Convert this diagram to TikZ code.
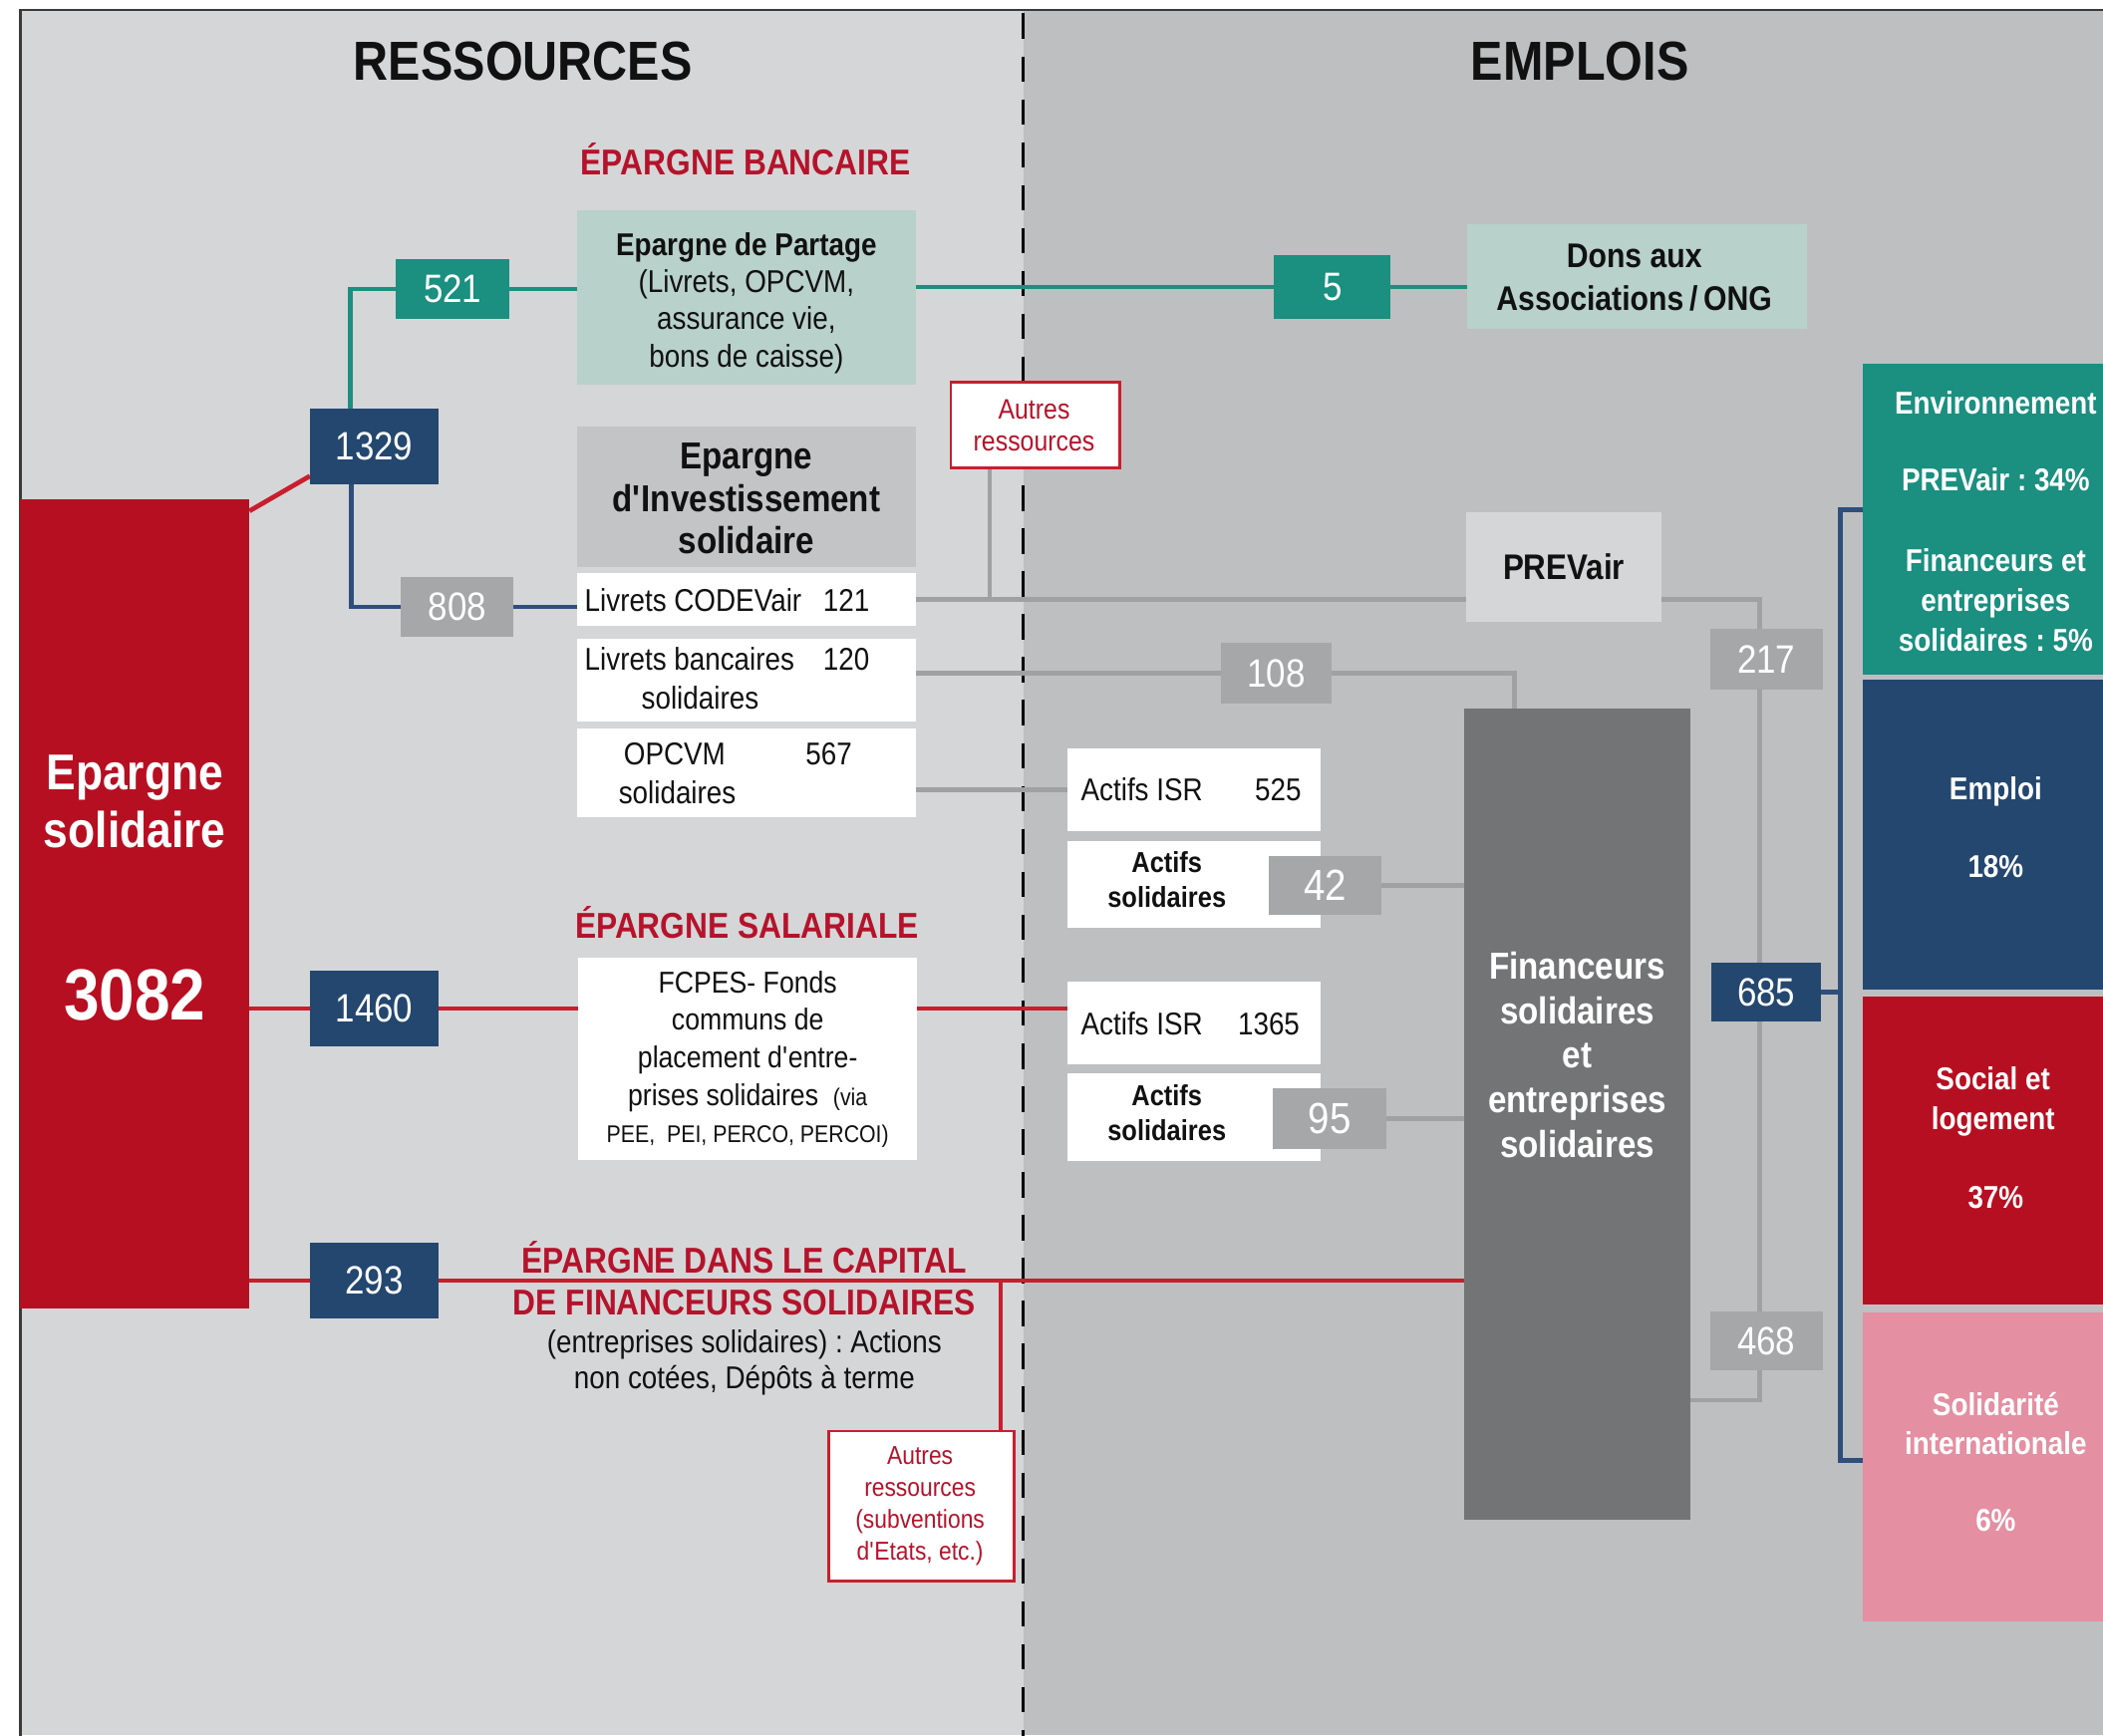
\documentclass[tikz,border=0pt]{standalone}
\usepackage{fontspec}
\setmainfont{Liberation Sans}[FakeStretch=0.88]
\usetikzlibrary{calc}
\definecolor{leftbg}{HTML}{D5D6D8}
\definecolor{rightbg}{HTML}{BEBFC1}
\definecolor{bordercol}{HTML}{3A3A3A}
\definecolor{esred}{HTML}{B70F22}
\definecolor{linered}{HTML}{C81E2D}
\definecolor{headred}{HTML}{B5132B}
\definecolor{navy}{HTML}{24476F}
\definecolor{navyline}{HTML}{2E4F7C}
\definecolor{tealc}{HTML}{1B8F80}
\definecolor{lteal}{HTML}{B8D1CA}
\definecolor{gbox}{HTML}{A6A7A9}
\definecolor{gline}{HTML}{A0A1A3}
\definecolor{dgray}{HTML}{737476}
\definecolor{pinkc}{HTML}{E48FA2}
\definecolor{eisgray}{HTML}{C3C4C6}
\definecolor{txtk}{HTML}{111111}
\newcommand\myfs[2]{\fontsize{#1}{#2}\selectfont}
\pgfdeclarelayer{bg}
\pgfdeclarelayer{lines}
\pgfsetlayers{bg,lines,main}
\frenchspacing
\tikzset{
  panel/.style={rectangle, inner sep=0pt, outer sep=0pt},
  numb/.style={panel, text=white, font=\myfs{29.5}{30}},
  lbl/.style={inner sep=0pt, outer sep=0pt, text=txtk},
  wlbl/.style={inner sep=0pt, outer sep=0pt, text=white, font=\myfs{23.5}{29.5}\bfseries},
  rhead/.style={lbl, text=headred, font=\myfs{26.8}{31}\bfseries},
  btxt/.style={lbl, font=\myfs{23.5}{28}},
  tealln/.style={line width=3.5pt, tealc},
  gln/.style={line width=3.5pt, gline},
  rln/.style={line width=3.5pt, linered},
  nln/.style={line width=3.5pt, navyline},
}
\begin{document}
\frenchspacing
\begin{tikzpicture}[x=1pt,y=-1pt]
\useasboundingbox (0,0) rectangle (1568,1294);
\clip (0,0) rectangle (1568,1294);
\begin{pgfonlayer}{bg}
\fill[white] (0,0) rectangle (1568,1294);
\fill[leftbg] (15,7) rectangle (763,1294);
\fill[rightbg] (763,7) rectangle (1568,1294);
\draw[bordercol, line width=2pt] (15,1300) -- (15,7.4) -- (1575,7.4);
\draw[black, line width=2pt, dash pattern=on 19pt off 13pt] (763,10) -- (763,1300);
\end{pgfonlayer}

% headings
\node[lbl, anchor=base, font=\myfs{41}{41}\bfseries] (tRes) at (390,60) {RESSOURCES};
\node[lbl, anchor=base, font=\myfs{41}{41}\bfseries] (tEmp) at (1178,60) {EMPLOIS};
\node[rhead, anchor=base] (tBanc) at (556,130.6) {ÉPARGNE BANCAIRE};
\node[rhead, anchor=base] (tSal) at (557,699.6) {ÉPARGNE SALARIALE};
\node[rhead, anchor=base] (tCap1) at (555,949.6) {ÉPARGNE DANS LE CAPITAL};
\node[rhead, anchor=base] (tCap2) at (555,980.6) {DE FINANCEURS SOLIDAIRES};
\node[btxt, anchor=base] (tCap3) at (555,1008.5) {(entreprises solidaires) : Actions};
\node[btxt, anchor=base] (tCap4) at (555,1035.5) {non cotées, Dépôts à terme};

% Epargne solidaire
\node[panel, fill=esred, minimum width=171pt, minimum height=604pt] (nES) at (100.5,674) {};
\node[lbl, text=white, align=center, font=\myfs{37.5}{43}\bfseries] (tES) at (100.5,598) {Epargne\\solidaire};
\node[lbl, text=white, font=\myfs{54}{54}\bfseries] (t3082) at (100.5,742) {3082};

% ressources boxes
\node[panel, fill=lteal, minimum width=253pt, minimum height=130pt] (nPart) at (556.5,222) {};
\node[lbl, align=center, font=\myfs{23.5}{27.6}] (tPart) at (556.5,226) {\textbf{Epargne de Partage}\\(Livrets, OPCVM,\\assurance vie,\\bons de caisse)};
\node[panel, fill=eisgray, minimum width=253pt, minimum height=105pt] (nEIS) at (556.5,370.5) {};
\node[lbl, align=center, font=\myfs{28}{31.5}\bfseries] (tEIS) at (556.5,372) {Epargne\\d\textquotesingle Investissement\\solidaire};
\node[panel, fill=white, minimum width=253pt, minimum height=40pt] (nCODE) at (556.5,447) {};
\node[btxt, anchor=base west] (tCODE) at (436,456) {Livrets CODEVair};
\node[btxt, anchor=base] (tCODEn) at (631,456) {121};
\node[panel, fill=white, minimum width=253pt, minimum height=62pt] (nLB) at (556.5,507) {};
\node[btxt, anchor=base west] (tLB) at (436,500) {Livrets bancaires};
\node[btxt, anchor=base] (tLBn) at (631,500) {120};
\node[btxt, anchor=base] (tLB2) at (522,529) {solidaires};
\node[panel, fill=white, minimum width=253pt, minimum height=66pt] (nOP) at (556.5,576) {};
\node[btxt, anchor=base] (tOP) at (503,570) {OPCVM};
\node[btxt, anchor=base] (tOPn) at (618,570) {567};
\node[btxt, anchor=base] (tOP2) at (505,599) {solidaires};
\node[panel, fill=white, minimum width=253pt, minimum height=151pt] (nFCPES) at (557.5,789.5) {};
\node[lbl, align=center, font=\myfs{22.5}{28}] (tFCPES) at (557.5,790) {FCPES- Fonds\\communs de\\placement d\textquotesingle entre-\\prises solidaires~~{\myfs{18}{28}(via}\\{\myfs{18}{28}PEE,~~PEI, PERCO, PERCOI)}};
\node[panel, fill=white, draw=linered, line width=2pt, minimum width=126pt, minimum height=64pt] (nAut1) at (772,317) {};
\node[lbl, text=headred, align=center, font=\myfs{21}{24}] (tAut1) at (771,317.5) {Autres\\ressources};
\node[panel, fill=white, draw=linered, line width=2pt, minimum width=138pt, minimum height=112pt] (nAut2) at (687,1123) {};
\node[lbl, text=headred, align=center, font=\myfs{19.3}{23.7}] (tAut2) at (686,1123) {Autres\\ressources\\(subventions\\d\textquotesingle Etats, etc.)};

% emplois boxes
\node[panel, fill=lteal, minimum width=253pt, minimum height=78pt] (nDons) at (1220.5,206) {};
\node[lbl, align=center, font=\myfs{25.5}{32}\bfseries] (tDons) at (1218.5,207) {Dons aux\\Associations\,/\,ONG};
\node[panel, fill=leftbg, minimum width=146pt, minimum height=82pt] (nPREV) at (1166,423) {};
\node[lbl, font=\myfs{26.5}{27}\bfseries] (tPREV) at (1166,423) {PREVair};
\node[panel, fill=dgray, minimum width=168pt, minimum height=605pt] (nFin) at (1176,830.5) {};
\node[lbl, text=white, align=center, font=\myfs{28}{33.3}\bfseries] (tFin) at (1176,786.5) {Financeurs\\solidaires\\et\\entreprises\\solidaires};
\node[panel, fill=white, minimum width=189pt, minimum height=62pt] (nISRa) at (890.5,589) {};
\node[btxt, anchor=base west] (tISRa) at (806,597) {Actifs ISR};
\node[btxt, anchor=base] (tISRan) at (953,597) {525};
\node[panel, fill=white, minimum width=189pt, minimum height=65pt] (nASa) at (890.5,659.5) {};
\node[lbl, align=center, font=\myfs{21.5}{26}\bfseries] (tASa) at (870,656) {Actifs\\solidaires};
\node[panel, fill=white, minimum width=189pt, minimum height=62pt] (nISRb) at (890.5,763) {};
\node[btxt, anchor=base west] (tISRb) at (806,772) {Actifs ISR};
\node[btxt, anchor=base] (tISRbn) at (946,772) {1365};
\node[panel, fill=white, minimum width=189pt, minimum height=66pt] (nASb) at (890.5,833) {};
\node[lbl, align=center, font=\myfs{21.5}{26}\bfseries] (tASb) at (870,830) {Actifs\\solidaires};

% right column
\node[panel, fill=tealc, minimum width=201pt, minimum height=232pt] (nEnv) at (1489.5,387) {};
\node[panel, fill=navy, minimum width=201pt, minimum height=231pt] (nEmp) at (1489.5,622.5) {};
\node[panel, fill=esred, minimum width=201pt, minimum height=230pt] (nSoc) at (1489.5,858) {};
\node[panel, fill=pinkc, minimum width=201pt, minimum height=230pt] (nSol) at (1489.5,1094) {};
\node[wlbl, anchor=base] (tEnv1) at (1488,309) {Environnement};
\node[wlbl, anchor=base] (tEnv2) at (1488,366) {PREVair : 34\%};
\node[wlbl, align=center] (tEnv3) at (1488,447.5) {Financeurs et\\entreprises\\solidaires : 5\%};
\node[wlbl, anchor=base] (tEmp1) at (1488,596) {Emploi};
\node[wlbl, anchor=base] (tEmp2) at (1488,654) {18\%};
\node[wlbl, align=center] (tSoc1) at (1486,821.5) {Social et\\logement};
\node[wlbl, anchor=base] (tSoc2) at (1488,901) {37\%};
\node[wlbl, align=center] (tSol1) at (1488,1061.5) {Solidarité\\internationale};
\node[wlbl, anchor=base] (tSol2) at (1488,1142) {6\%};

% number boxes
\node[numb, fill=navy, minimum width=96pt, minimum height=56pt] (n1329) at (279,333) {1329};
\node[numb, fill=navy, minimum width=96pt, minimum height=56pt] (n1460) at (279,752) {1460};
\node[numb, fill=navy, minimum width=96pt, minimum height=56pt] (n293) at (279,955) {293};
\node[numb, fill=tealc, minimum width=85pt, minimum height=45pt] (n521) at (337.5,215.5) {521};
\node[numb, fill=gbox, minimum width=84pt, minimum height=45pt] (n808) at (341,452.5) {808};
\node[numb, fill=tealc, minimum width=87pt, minimum height=48pt] (n5) at (993.5,214) {5};
\node[numb, fill=gbox, minimum width=83pt, minimum height=45pt] (n108) at (951.5,502) {108};
\node[numb, fill=gbox, minimum width=84pt, minimum height=45pt] (n217) at (1317,491.5) {217};
\node[numb, fill=navy, minimum width=82pt, minimum height=44pt] (n685) at (1317,740) {685};
\node[numb, fill=gbox, minimum width=84pt, minimum height=44pt] (n468) at (1317,1000) {468};
\node[numb, fill=gbox, minimum width=84pt, minimum height=44pt, font=\myfs{32.5}{33}] (n42) at (988,660) {42};
\node[numb, fill=gbox, minimum width=85pt, minimum height=45pt, font=\myfs{32.5}{33}] (n95) at (991.5,834) {95};

% connectors
\coordinate (a1) at ([xshift=29pt]nAut1.south west);
\coordinate (a2) at ([xshift=-10pt]nAut2.north east);
\coordinate (gb) at (1312,1044);
\coordinate (f1) at ([xshift=37pt]nFin.north west);
\coordinate (bt) at (1372,380);
\coordinate (bb) at (1372,1089);
\begin{pgfonlayer}{lines}
\draw[tealln] ([xshift=30pt]n1329.north west) |- (n521.west);
\draw[tealln] (n521.east) -- (n521.east -| nPart.west);
\draw[tealln] (n5.west -| nPart.east) -- (n5.west);
\draw[tealln] (n5.east) -- (n5.east -| nDons.west);
\draw[rln] ([yshift=-9pt]nES.north east) -- ([yshift=6pt]n1329.south west);
\draw[nln] ([xshift=31pt]n1329.south west) |- (n808.west);
\draw[nln] (n808.east) -- (n808.east -| nCODE.west);
\draw[gln] (a1) -- (a1 |- nCODE.east);
\draw[gln] (nCODE.east) -- (nCODE.east -| nPREV.west);
\draw[gln] (nPREV.east |- nCODE.east) -| (gb) -- (gb -| nFin.east);
\draw[gln] (n108.west -| nLB.east) -- (n108.west);
\draw[gln] (n108.east) -| (f1);
\draw[gln] (nISRa.west -| nOP.east) -- (nISRa.west);
\draw[gln] (n42.east) -- (n42.east -| nFin.west);
\draw[gln] (n95.east) -- (n95.east -| nFin.west);
\draw[rln] (n1460.west -| nES.east) -- (n1460.west);
\draw[rln] (n1460.east) -- (n1460.east -| nFCPES.west);
\draw[rln] (n1460.east -| nFCPES.east) -- (n1460.east -| nISRb.west);
\draw[rln] (n293.west -| nES.east) -- (n293.west);
\draw[rln] (n293.east) -- (n293.east -| nFin.west);
\draw[rln] (a2) -- (a2 |- n293.east);
\draw[nln] (bt -| nEnv.west) -- (bt) -- (bb) -- (bb -| nSol.west);
\draw[nln] (n685.east) -- (n685.east -| bt);
\end{pgfonlayer}
\end{tikzpicture}
\end{document}
